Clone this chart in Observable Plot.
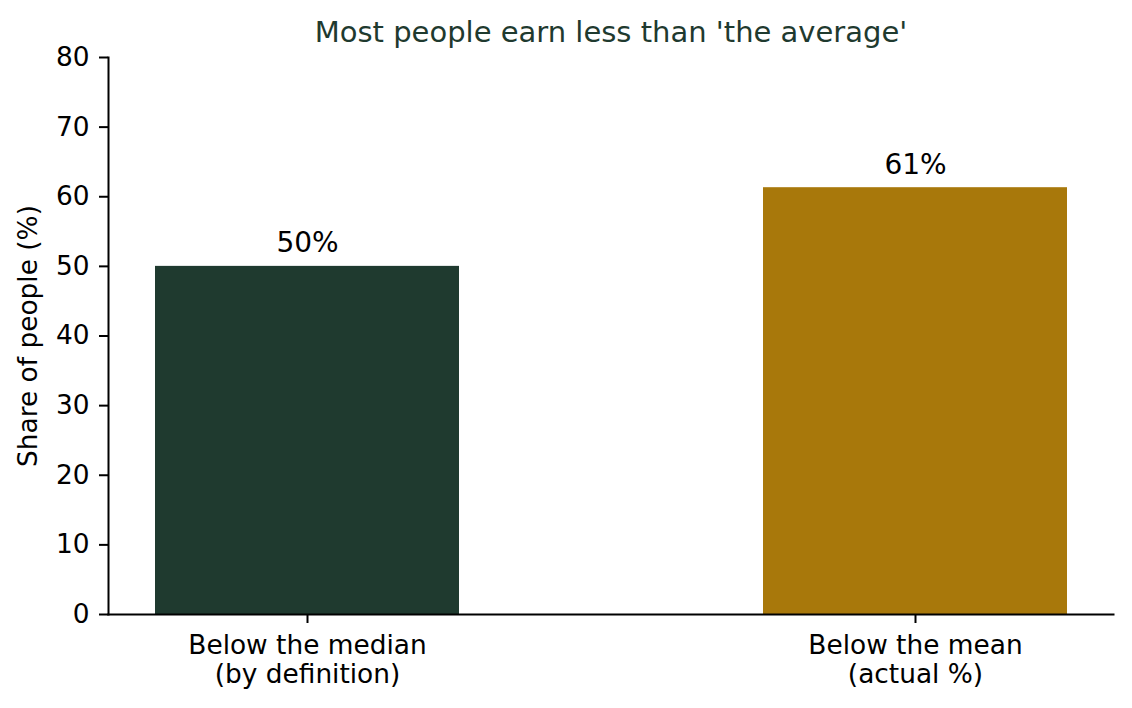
<!DOCTYPE html>
<html>
<head>
<meta charset="utf-8">
<script src="https://cdn.jsdelivr.net/npm/d3@7"></script>
<script src="https://cdn.jsdelivr.net/npm/@observablehq/plot@0.6"></script>
<style>
  html, body { margin: 0; padding: 0; background: white; }
</style>
</head>
<body>
<div id="chart"></div>
<script>
const titleText = "Most people earn less than 'the average'";
const yLabel = "Share of people (%)";
const categories = ["Below the median\n(by definition)", "Below the mean\n(actual %)"];
const shares = [50, 61.3];
const barLabels = ["50%", "61%"];
const yTicks = [0, 10, 20, 30, 40, 50, 60, 70, 80];

const barColors = ["#1f3a2f", "#a8780b"];

const data = categories.map((c, i) => ({category: c, share: shares[i], label: barLabels[i]}));

const chart = Plot.plot({
  width: 1132,
  height: 708,
  marginLeft: 108,
  marginRight: 19,
  marginTop: 57,
  marginBottom: 94,
  style: {fontFamily: "DejaVu Sans", fontSize: "26.4px", color: "black", background: "white"},
  x: {domain: categories, paddingInner: 0.5, paddingOuter: 0.0755, label: null},
  y: {domain: [0, 80]},
  color: {domain: categories, range: barColors},
  marks: [
    Plot.barY(data, {x: "category", y: "share", fill: "category"}),
    Plot.frame({anchor: "left", strokeWidth: 2}),
    Plot.frame({anchor: "bottom", strokeWidth: 2}),
    Plot.axisY({ticks: yTicks, tickSize: 9, tickPadding: 10, strokeWidth: 2,
      label: yLabel, labelAnchor: "center", labelArrow: "none", labelOffset: 90}),
    Plot.axisX({tickSize: 9, tickPadding: 9, strokeWidth: 2, label: null, lineHeight: 1.12}),
    Plot.text(data, {x: "category", y: "share", text: "label", dy: -23, fontSize: 28, fill: "black"}),
    Plot.text([titleText], {frameAnchor: "top", lineAnchor: "middle", dy: -25, fontSize: 29, fill: "#1f3a2f"})
  ]
});
document.getElementById("chart").appendChild(chart);
</script>
</body>
</html>
